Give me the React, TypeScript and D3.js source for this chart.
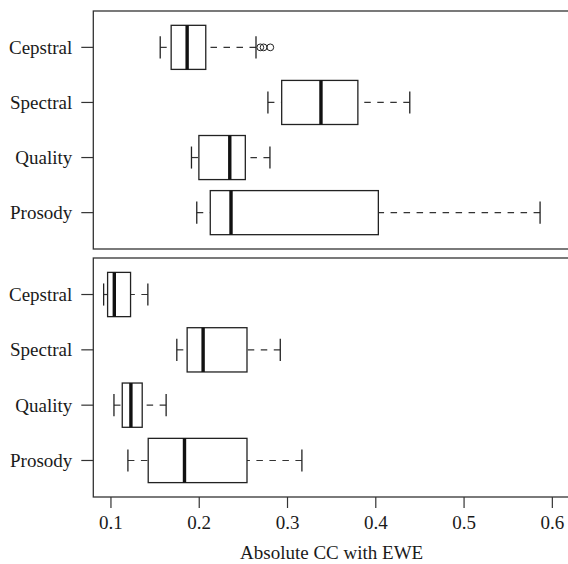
import React from "react"
import * as d3 from "d3"

// categories from bottom (1) to top (4), as R lays out a horizontal boxplot
const categories = ["Prosody", "Quality", "Spectral", "Cepstral"]

// top panel: five-number summaries
const topLow = [0.1972, 0.1912, 0.2778, 0.1558]
const topQ1 = [0.2125, 0.1996, 0.2934, 0.1682]
const topMedian = [0.236, 0.2346, 0.3379, 0.1863]
const topQ3 = [0.4029, 0.2522, 0.3797, 0.2074]
const topHigh = [0.5861, 0.2801, 0.4385, 0.2643]
const topOutliers = [[], [], [], [0.2692, 0.2729, 0.2805]]

// bottom panel
const bottomLow = [0.1192, 0.1034, 0.1746, 0.0917]
const bottomQ1 = [0.1422, 0.1128, 0.1863, 0.0962]
const bottomMedian = [0.1833, 0.1226, 0.2044, 0.1038]
const bottomQ3 = [0.2541, 0.1354, 0.2541, 0.1222]
const bottomHigh = [0.3163, 0.1625, 0.2918, 0.1418]
const bottomOutliers = [[], [], [], []]

const xTicks = [0.1, 0.2, 0.3, 0.4, 0.5, 0.6]
const xTitle = "Absolute CC with EWE"

const width = 568
const height = 564
const font = "'Liberation Serif', 'Times New Roman', serif"
const fontSize = 19

const x = d3.scaleLinear().domain([0.08, 0.62]).range([93.3, 570])

function Panel({ top, bottom, low, q1, median, q3, high, outliers }) {
    const y = d3.scaleLinear().domain([0.34, 4.66]).range([bottom, top])
    const half = y(0) - y(0.4)
    const staple = half / 2

    return (
        <g>
            <rect x={x.range()[0]} y={top} width={x.range()[1] - x.range()[0]} height={bottom - top}
                fill="none" stroke="#333" strokeWidth={1.3} />
            {categories.map((name, i) => {
                const cy = y(i + 1)
                return (
                    <g key={name}>
                        {/* y axis tick + label */}
                        <line x1={x.range()[0] - 12} x2={x.range()[0]} y1={cy} y2={cy} stroke="#333" strokeWidth={1.2} />
                        <text x={x.range()[0] - 21} y={cy} dy="0.35em" textAnchor="end"
                            fontFamily={font} fontSize={fontSize} fill="#1a1a1a">{name}</text>

                        {/* whiskers, drawn from the staple towards the box */}
                        <line x1={x(low[i])} x2={x(q1[i])} y1={cy} y2={cy} stroke="#333" strokeWidth={1.2} strokeDasharray="6.5 6.5" />
                        <line x1={x(high[i])} x2={x(q3[i])} y1={cy} y2={cy} stroke="#333" strokeWidth={1.2} strokeDasharray="6.5 6.5" />
                        <line x1={x(low[i])} x2={x(low[i])} y1={cy - staple} y2={cy + staple} stroke="#222" strokeWidth={1.3} />
                        <line x1={x(high[i])} x2={x(high[i])} y1={cy - staple} y2={cy + staple} stroke="#222" strokeWidth={1.3} />

                        {/* box + median */}
                        <rect x={x(q1[i])} y={cy - half} width={x(q3[i]) - x(q1[i])} height={half * 2}
                            fill="white" stroke="#222" strokeWidth={1.3} />
                        <line x1={x(median[i])} x2={x(median[i])} y1={cy - half} y2={cy + half} stroke="#111" strokeWidth={3.4} />

                        {outliers[i].map((v, j) => (
                            <circle key={j} cx={x(v)} cy={cy} r={3.4} fill="none" stroke="#222" strokeWidth={1} />
                        ))}
                    </g>
                )
            })}
        </g>
    )
}

export default function App() {
    const axisY = 497
    return (
        <svg width={width} height={height} style={{ position: "absolute", left: 0, top: 0, background: "white" }}>
            <Panel top={11} bottom={249} low={topLow} q1={topQ1} median={topMedian} q3={topQ3} high={topHigh} outliers={topOutliers} />
            <Panel top={258} bottom={axisY} low={bottomLow} q1={bottomQ1} median={bottomMedian} q3={bottomQ3} high={bottomHigh} outliers={bottomOutliers} />

            {/* x axis ticks + labels */}
            {xTicks.map(t => (
                <g key={t}>
                    <line x1={x(t)} x2={x(t)} y1={axisY} y2={axisY + 11} stroke="#333" strokeWidth={1.2} />
                    <text x={x(t)} y={529} textAnchor="middle" fontFamily={font} fontSize={fontSize} fill="#1a1a1a">
                        {d3.format(".1f")(t)}
                    </text>
                </g>
            ))}
            <text x={(93.3 + 570) / 2} y={559} textAnchor="middle" fontFamily={font} fontSize={fontSize} fill="#1a1a1a">
                {xTitle}
            </text>
        </svg>
    )
}
